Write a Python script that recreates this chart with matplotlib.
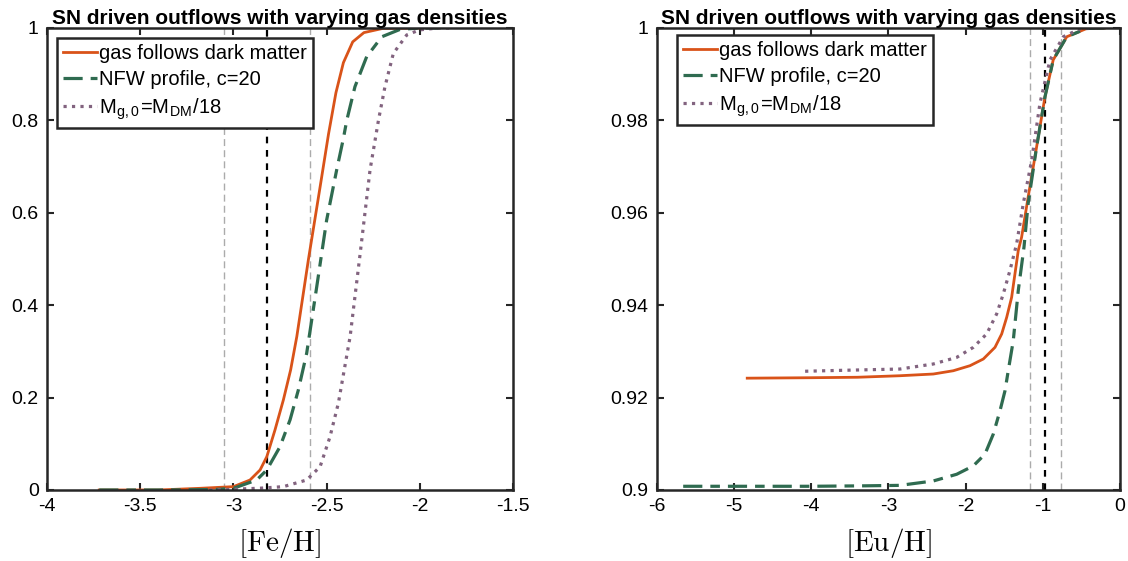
import numpy as np
import matplotlib
matplotlib.use('Agg')
import matplotlib.pyplot as plt

plt.rcParams['font.family'] = ['Liberation Sans', 'DejaVu Sans']
plt.rcParams['mathtext.fontset'] = 'cm'

# ---- left panel: [Fe/H] cumulative curves ----
fe_gas_x = [-3.72, -3.4, -3.179, -3.0, -2.911, -2.857, -2.821, -2.777, -2.732, -2.693,
            -2.66, -2.598, -2.535, -2.49, -2.45, -2.41, -2.36, -2.30, -2.2, -2.0]
fe_gas_y = [0.0, 0.0, 0.0036, 0.0072, 0.0216, 0.0433, 0.072, 0.130, 0.195, 0.26,
            0.332, 0.498, 0.656, 0.77, 0.86, 0.925, 0.97, 0.99, 0.999, 1.0]

fe_nfw_x = [-3.72, -3.4, -3.1, -3.0, -2.875, -2.821, -2.75, -2.696, -2.652, -2.607,
            -2.553, -2.50, -2.446, -2.41, -2.392, -2.348, -2.285, -2.204, -2.106, -2.0, -1.9]
fe_nfw_y = [0.0, 0.0, 0.001, 0.0036, 0.0216, 0.0433, 0.0938, 0.152, 0.216, 0.296,
            0.44, 0.584, 0.693, 0.761, 0.80, 0.873, 0.938, 0.981, 0.997, 1.0, 1.0]

fe_low_x = [-3.13, -3.0, -2.85, -2.732, -2.607, -2.535, -2.482, -2.437, -2.374, -2.32,
            -2.267, -2.222, -2.187, -2.142, -2.07, -2.0, -1.9, -1.82]
fe_low_y = [0.0, 0.0015, 0.004, 0.0072, 0.0216, 0.0505, 0.115, 0.188, 0.332, 0.512,
            0.693, 0.80, 0.873, 0.945, 0.985, 0.996, 1.0, 1.0]

fe_lines = [-3.05, -2.82, -2.59]

# ---- right panel: [Eu/H] cumulative curves ----
eu_gas_x = [-4.83, -4.0, -3.4, -2.851, -2.419, -2.16, -1.944, -1.771, -1.62, -1.533,
            -1.468, -1.404, -1.361, -1.318, -1.275, -1.19, -1.08, -0.972, -0.865, -0.69,
            -0.43, -0.2]
eu_gas_y = [0.9242, 0.9243, 0.9244, 0.92473, 0.9251, 0.92581, 0.9269, 0.92835, 0.93087, 0.93377,
            0.93738, 0.94171, 0.94679, 0.95184, 0.9547, 0.9634, 0.9743, 0.9851, 0.9931, 0.9981,
            0.9999, 1.0]

eu_nfw_x = [-5.66, -4.0, -3.3, -2.851, -2.419, -2.116, -1.901, -1.75, -1.642, -1.555,
            -1.49, -1.448, -1.383, -1.318, -1.244, -1.19, -1.08, -0.972, -0.865, -0.69,
            -0.43, -0.2]
eu_nfw_y = [0.9008, 0.9008, 0.9009, 0.9010, 0.90195, 0.9034, 0.90521, 0.90774, 0.91208, 0.91714,
            0.92148, 0.92581, 0.93232, 0.94317, 0.95256, 0.962, 0.9743, 0.9851, 0.9931, 0.9981,
            0.9999, 1.0]

eu_low_x = [-4.08, -3.6, -2.851, -2.419, -2.116, -1.901, -1.728, -1.598, -1.512, -1.426,
            -1.339, -1.253, -1.144, -1.037, -0.907, -0.735, -0.52, -0.3]
eu_low_y = [0.9257, 0.9259, 0.92618, 0.92727, 0.9287, 0.93087, 0.93377, 0.93811, 0.94245, 0.94751,
            0.9533, 0.962, 0.9714, 0.9837, 0.9931, 0.9981, 0.9998, 1.0]

eu_lines = [-1.16, -0.97, -0.77]

labels = ['gas follows dark matter', 'NFW profile, c=20',
          'M$_{\\mathregular{g,0}}$=M$_{\\mathregular{DM}}$/18']
c_gas = '#D95319'
c_nfw = '#2F6B50'
c_low = '#82637F'
title = 'SN driven outflows with varying gas densities'


def style_axes(ax):
    for s in ax.spines.values():
        s.set_linewidth(1.8)
        s.set_color('#262626')
    ax.tick_params(direction='in', top=True, right=True, length=5, width=1.5,
                   labelsize=14, colors='#262626', pad=6)
    for t in ax.get_xticklabels() + ax.get_yticklabels():
        t.set_color('black')


def draw_panel(ax, xs, ys, vlines, xlim, ylim, xticks, yticks, ytl, xlabel, leg_anchor):
    ax.axvline(vlines[0], color='#ABABAB', ls='--', lw=1.0, dashes=(5, 3))
    ax.axvline(vlines[2], color='#ABABAB', ls='--', lw=1.0, dashes=(5, 3))
    ax.axvline(vlines[1], color='black', ls='--', lw=1.6, dashes=(3, 3))
    ax.plot(xs[0], ys[0], color=c_gas, lw=2.0, label=labels[0])
    ax.plot(xs[1], ys[1], color=c_nfw, lw=2.3, ls='-.', dashes=(6, 2.5, 3, 2.5), label=labels[1])
    ax.plot(xs[2], ys[2], color=c_low, lw=2.3, ls=':', label=labels[2])
    ax.set_xlim(xlim)
    ax.set_ylim(ylim)
    ax.set_xticks(xticks)
    ax.set_xticklabels([('%g' % v) for v in xticks])
    ax.set_yticks(yticks)
    ax.set_yticklabels(ytl)
    ax.set_xlabel(xlabel, fontsize=21, labelpad=8)
    ax.set_title(title, fontsize=15, fontweight='bold', pad=3)
    leg = ax.legend(loc='upper left', bbox_to_anchor=leg_anchor, fontsize=14.5,
                    fancybox=False, framealpha=1, edgecolor='#262626',
                    borderpad=0.3, labelspacing=0.35, handlelength=1.7,
                    handletextpad=0.1, borderaxespad=0)
    leg.get_frame().set_linewidth(1.8)
    style_axes(ax)


fig = plt.figure(figsize=(11.28, 5.61), dpi=100)
ax1 = fig.add_axes([0.0417, 0.1266, 0.4131, 0.8235])
ax2 = fig.add_axes([0.5824, 0.1266, 0.4105, 0.8235])

draw_panel(ax1, [fe_gas_x, fe_nfw_x, fe_low_x], [fe_gas_y, fe_nfw_y, fe_low_y], fe_lines,
           (-4, -1.5), (0, 1), [-4, -3.5, -3, -2.5, -2, -1.5],
           [0, 0.2, 0.4, 0.6, 0.8, 1], ['0', '0.2', '0.4', '0.6', '0.8', '1'],
           r'$[\mathrm{Fe/H}]$', (0.021, 0.978))

draw_panel(ax2, [eu_gas_x, eu_nfw_x, eu_low_x], [eu_gas_y, eu_nfw_y, eu_low_y], eu_lines,
           (-6, 0), (0.9, 1), [-6, -5, -4, -3, -2, -1, 0],
           [0.9, 0.92, 0.94, 0.96, 0.98, 1], ['0.9', '0.92', '0.94', '0.96', '0.98', '1'],
           r'$[\mathrm{Eu/H}]$', (0.043, 0.985))

fig.savefig('out.png', dpi=100)
